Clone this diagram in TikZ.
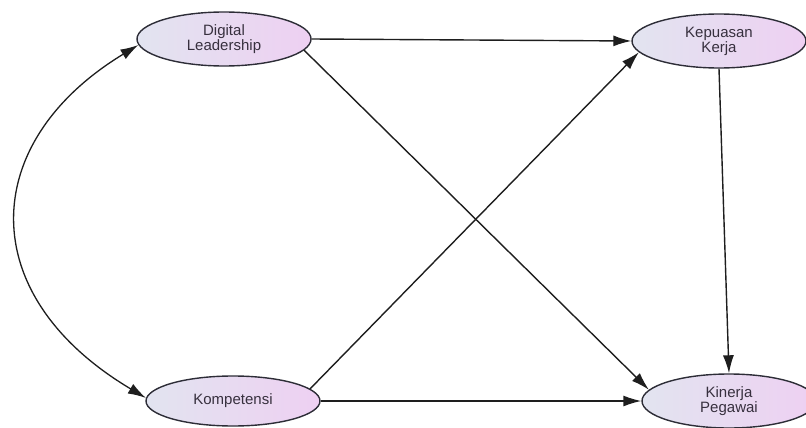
\documentclass[tikz,border=0pt]{standalone}
\usepackage{fontspec}
\setmainfont{Liberation Sans}
\usetikzlibrary{shapes.geometric,arrows.meta}
\definecolor{labeltext}{RGB}{55,48,62}
\definecolor{rim}{RGB}{45,45,55}
\definecolor{fillleft}{RGB}{226,228,240}
\definecolor{fillright}{RGB}{238,208,242}
\definecolor{wire}{RGB}{30,30,30}
\begin{document}
\begin{tikzpicture}[x=1pt,y=-1pt,
  latent/.style={ellipse, draw=rim, line width=1.4pt,
    left color=fillleft, right color=fillright,
    minimum width=174pt, minimum height=54pt, inner sep=0pt,
    align=center, text=labeltext,
    font=\fontsize{15}{15}\selectfont},
  path/.style={draw=wire, line width=1.4pt,
    -{Latex[length=18pt,width=11pt]}},
  covpath/.style={draw=wire, line width=1.3pt,
    {Latex[length=18pt,width=11pt]}-{Latex[length=18pt,width=11pt]}}]
\clip (0,0) rectangle (806,428);

% latent constructs
\node[latent] (dl) at (224,39)  {Digital\\Leadership};
\node[latent] (kk) at (719,41)  {Kepuasan\\Kerja};
\node[latent, minimum height=50pt] (km) at (233,401) {Kompetensi};
\node[latent] (kp) at (729,401) {Kinerja\\Pegawai};

% structural paths
\draw[path] (dl.east) -- (kk.west);
\draw[path] (dl.-8) -- (kp.172);
\draw[path] (km.9) -- (kk.188);
\draw[path] (km.east) -- (kp.west);
\draw[path] (kk.south) -- (kp.north);

% correlation between the exogenous constructs
\draw[covpath] (dl.184) .. controls +(-160,97) and +(-173,-103) .. (km.178);
\end{tikzpicture}
\end{document}
